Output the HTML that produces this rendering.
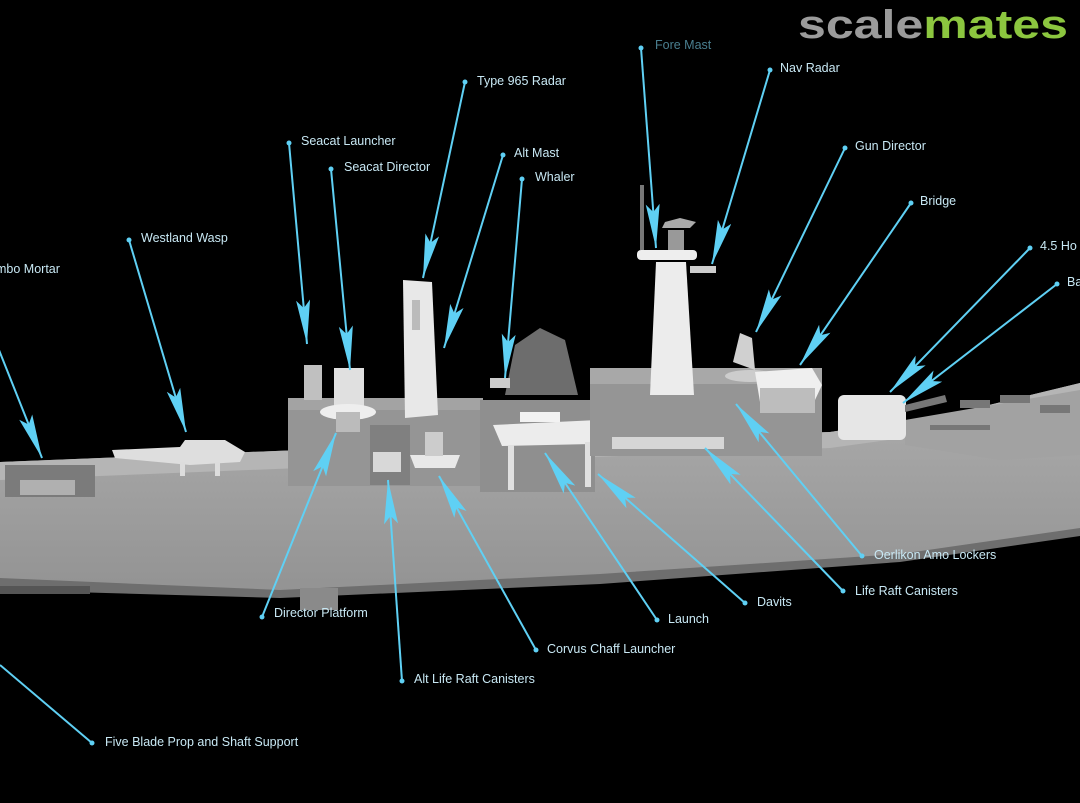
<!DOCTYPE html>
<html><head><meta charset="utf-8"><style>
html,body{margin:0;padding:0;background:#000;width:1080px;height:803px;overflow:hidden}
svg{display:block}
text{font-family:"Liberation Sans",sans-serif}
.l{font-size:12.5px;fill:#c8e8f4}
</style></head><body>
<svg width="1080" height="803" viewBox="0 0 1080 803">
<defs>
<marker id="a" markerUnits="userSpaceOnUse" markerWidth="50" markerHeight="16" refX="44" refY="7" orient="auto">
<path d="M0,0 L44,7 L0,14 L8,7 z" fill="#5fd0f4"/></marker>
<linearGradient id="hull" x1="0" y1="0" x2="0" y2="1">
<stop offset="0" stop-color="#adadad"/><stop offset="1" stop-color="#939393"/></linearGradient>
</defs>
<text x="798" y="38" font-size="40" font-weight="bold" fill="#9b9b9b" textLength="270" lengthAdjust="spacingAndGlyphs">scale<tspan fill="#8cc63f">mates</tspan></text>

<polygon points="0,462 300,450 830,432 960,412 1080,383 1080,530 900,556 600,576 280,592 0,580" fill="url(#hull)"/>
<polygon points="0,462 300,450 830,432 960,412 1080,383 1080,400 960,430 830,448 300,468 0,480" fill="#b5b5b5"/>
<polygon points="0,578 280,590 600,574 900,554 1080,528 1080,536 900,562 600,584 280,598 0,590" fill="#6e6e6e"/>
<rect x="0" y="586" width="90" height="8" fill="#555"/>
<rect x="300" y="588" width="38" height="22" fill="#8a8a8a"/>
<polygon points="905,420 1080,390 1080,455 1000,460 905,445" fill="#a2a2a2"/>
<g fill="#777"><rect x="960" y="400" width="30" height="8"/><rect x="1000" y="395" width="30" height="8"/><rect x="1040" y="405" width="30" height="8"/><rect x="930" y="425" width="60" height="5"/></g>
<rect x="5" y="465" width="90" height="32" fill="#7b7b7b"/>
<rect x="20" y="480" width="55" height="15" fill="#b0b0b0"/>
<path d="M112,450 L180,447 L185,440 L225,440 L245,452 L240,462 L190,465 L115,458 z" fill="#dedede"/>
<rect x="180" y="462" width="5" height="14" fill="#ddd"/><rect x="215" y="462" width="5" height="14" fill="#ddd"/>
<rect x="288" y="398" width="195" height="88" fill="#959595"/>
<rect x="288" y="398" width="195" height="12" fill="#a3a3a3"/>
<rect x="370" y="425" width="40" height="60" fill="#808080"/>
<rect x="373" y="452" width="28" height="20" fill="#d8d8d8"/>
<rect x="304" y="365" width="18" height="35" fill="#c0c0c0"/>
<rect x="334" y="368" width="30" height="38" fill="#e0e0e0"/>
<ellipse cx="348" cy="412" rx="28" ry="8" fill="#eee"/>
<rect x="336" y="412" width="24" height="20" fill="#bbb"/>
<polygon points="403,280 432,282 438,415 405,418" fill="#e8e8e8"/>
<rect x="412" y="300" width="8" height="30" fill="#bbb"/>
<path d="M410,455 L460,455 L455,468 L415,468 z" fill="#e8e8e8"/>
<rect x="425" y="432" width="18" height="24" fill="#ccc"/>
<rect x="480" y="400" width="115" height="92" fill="#8f8f8f"/>
<path d="M505,395 L515,345 L540,328 L565,340 L578,395 z" fill="#6d6d6d"/>
<rect x="490" y="378" width="20" height="10" fill="#ccc"/>
<path d="M493,425 L598,420 L592,444 L502,446 z" fill="#ececec"/>
<rect x="520" y="412" width="40" height="10" fill="#f2f2f2"/>
<rect x="508" y="445" width="6" height="45" fill="#e0e0e0"/><rect x="585" y="442" width="6" height="45" fill="#e0e0e0"/>
<rect x="590" y="368" width="232" height="88" fill="#959595"/>
<rect x="590" y="368" width="232" height="16" fill="#a8a8a8"/>
<rect x="612" y="437" width="112" height="12" fill="#d6d6d6"/>
<polygon points="656,262 686,262 694,395 650,395" fill="#ececec"/>
<rect x="637" y="250" width="60" height="10" rx="4" fill="#eee"/>
<rect x="640" y="185" width="4" height="65" fill="#777"/>
<path d="M662,228 L690,228 L696,222 L680,218 L665,222 z" fill="#aaa"/><rect x="668" y="230" width="16" height="20" fill="#999"/>
<rect x="690" y="266" width="26" height="7" fill="#ccc"/>
<path d="M733,362 L740,333 L752,338 L755,370 z" fill="#d0d0d0"/>
<ellipse cx="750" cy="376" rx="25" ry="6" fill="#ccc"/>
<path d="M755,372 L812,368 L822,385 L815,400 L760,402 z" fill="#efefef"/>
<rect x="760" y="388" width="55" height="25" fill="#bdbdbd"/>
<rect x="838" y="395" width="68" height="45" rx="6" fill="#e6e6e6"/>
<polygon points="905,405 945,395 947,402 905,412" fill="#777"/>

<g stroke="#5fd0f4" stroke-width="2" fill="none" marker-end="url(#a)">
<line x1="641" y1="48" x2="656" y2="248"/>
<line x1="770" y1="70" x2="712" y2="264"/>
<line x1="465" y1="82" x2="423" y2="278"/>
<line x1="289" y1="143" x2="307" y2="344"/>
<line x1="331" y1="169" x2="350" y2="370"/>
<line x1="503" y1="155" x2="444" y2="348"/>
<line x1="522" y1="179" x2="505" y2="378"/>
<line x1="845" y1="148" x2="756" y2="332"/>
<line x1="911" y1="203" x2="800" y2="365"/>
<line x1="1030" y1="248" x2="890" y2="392"/>
<line x1="1057" y1="284" x2="903" y2="403"/>
<line x1="129" y1="240" x2="186" y2="432"/>
<line x1="-5" y1="340" x2="42" y2="458"/>
<line x1="262" y1="617" x2="336" y2="433"/>
<line x1="402" y1="681" x2="388" y2="480"/>
<line x1="536" y1="650" x2="439" y2="476"/>
<line x1="657" y1="620" x2="545" y2="453"/>
<line x1="745" y1="603" x2="598" y2="474"/>
<line x1="843" y1="591" x2="705" y2="448"/>
<line x1="862" y1="556" x2="736" y2="404"/>
</g>
<line x1="0" y1="665" x2="92" y2="743" stroke="#5fd0f4" stroke-width="2"/>
<g fill="#5fd0f4">
<circle cx="641" cy="48" r="2.5"/><circle cx="770" cy="70" r="2.5"/><circle cx="465" cy="82" r="2.5"/>
<circle cx="289" cy="143" r="2.5"/><circle cx="331" cy="169" r="2.5"/><circle cx="503" cy="155" r="2.5"/>
<circle cx="522" cy="179" r="2.5"/><circle cx="845" cy="148" r="2.5"/><circle cx="911" cy="203" r="2.5"/>
<circle cx="1030" cy="248" r="2.5"/><circle cx="1057" cy="284" r="2.5"/><circle cx="129" cy="240" r="2.5"/>
<circle cx="262" cy="617" r="2.5"/><circle cx="402" cy="681" r="2.5"/><circle cx="536" cy="650" r="2.5"/>
<circle cx="657" cy="620" r="2.5"/><circle cx="745" cy="603" r="2.5"/><circle cx="843" cy="591" r="2.5"/>
<circle cx="862" cy="556" r="2.5"/><circle cx="92" cy="743" r="2.5"/>
</g>
<text class="l" x="655" y="49" style="fill:#4a7f90">Fore Mast</text>
<text class="l" x="780" y="72">Nav Radar</text>
<text class="l" x="477" y="85">Type 965 Radar</text>
<text class="l" x="301" y="145">Seacat Launcher</text>
<text class="l" x="344" y="171">Seacat Director</text>
<text class="l" x="514" y="157">Alt Mast</text>
<text class="l" x="535" y="181">Whaler</text>
<text class="l" x="855" y="150">Gun Director</text>
<text class="l" x="920" y="205">Bridge</text>
<text class="l" x="1040" y="250">4.5 Ho</text>
<text class="l" x="1067" y="286">Ba</text>
<text class="l" x="141" y="242">Westland Wasp</text>
<text class="l" x="-4" y="273">mbo Mortar</text>
<text class="l" x="274" y="617">Director Platform</text>
<text class="l" x="414" y="683">Alt Life Raft Canisters</text>
<text class="l" x="547" y="653">Corvus Chaff Launcher</text>
<text class="l" x="668" y="623">Launch</text>
<text class="l" x="757" y="606">Davits</text>
<text class="l" x="855" y="595">Life Raft Canisters</text>
<text class="l" x="874" y="559">Oerlikon Amo Lockers</text>
<text class="l" x="105" y="746">Five Blade Prop and Shaft Support</text>
</svg>
</body></html>
